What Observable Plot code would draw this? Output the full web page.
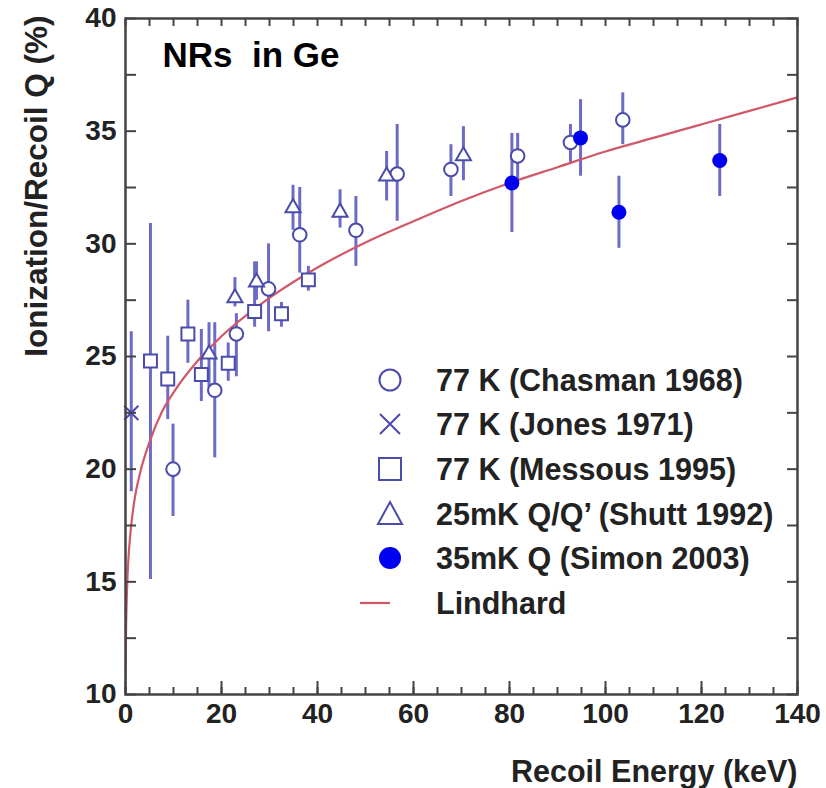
<!DOCTYPE html>
<html><head><meta charset="utf-8">
<script src="https://cdn.jsdelivr.net/npm/d3@7"></script>
<script src="https://cdn.jsdelivr.net/npm/@observablehq/plot@0.6"></script>
<style>
body{margin:0;background:#fff;}
#wrap{position:relative;width:826px;height:788px;}
#legend{position:absolute;left:0;top:0;pointer-events:none;}
</style></head><body><div id="wrap"></div>
<script>
// ---- data ----
// Chasman 1968 (77 K), open circles
const chasmanE  = [9.9, 18.6, 23.1, 29.8, 36.3, 48.0, 56.6, 67.8, 81.7, 92.7, 103.6];
const chasmanQ  = [20.0, 23.5, 26.0, 28.0, 30.4, 30.6, 33.1, 33.3, 33.9, 34.5, 35.5];
const chasmanHi = [22.0, 26.5, 26.9, 30.0, 32.5, 32.1, 35.3, 34.4, 34.9, 35.3, 36.7];
const chasmanLo = [17.9, 20.5, 24.1, 26.1, 28.7, 29.0, 31.0, 32.1, 32.8, 33.6, 34.4];
// Jones 1971 (77 K), crosses
const jonesE  = [1.2];
const jonesQ  = [22.5];
const jonesHi = [26.1];
const jonesLo = [19.0];
// Messous 1995 (77 K), open squares
const messousE  = [5.2, 8.8, 13.0, 15.8, 21.4, 26.9, 32.5, 38.1];
const messousQ  = [24.8, 24.0, 26.0, 24.2, 24.7, 27.0, 26.9, 28.4];
const messousHi = [30.9, 25.9, 27.5, 26.2, 25.6, 29.2, 27.4, 29.0];
const messousLo = [15.1, 22.2, 24.7, 23.0, 23.9, 26.3, 26.3, 27.9];
// Shutt 1992 (25 mK Q/Q'), open triangles
const shuttE  = [17.4, 22.8, 27.3, 34.9, 44.7, 54.4, 70.4];
const shuttQ  = [25.1, 27.6, 28.3, 31.6, 31.4, 33.0, 33.9];
const shuttHi = [26.5, 28.5, 29.2, 32.6, 32.4, 34.1, 35.2];
const shuttLo = [23.6, 27.2, 27.5, 30.6, 30.7, 31.9, 32.8];
// Simon 2003 (35 mK Q), filled circles
const simonE  = [80.5, 94.8, 102.8, 123.8];
const simonQ  = [32.7, 34.7, 31.4, 33.7];
const simonHi = [34.9, 36.4, 33.0, 35.3];
const simonLo = [30.5, 33.0, 29.8, 32.1];
// Lindhard curve, points
const lindE = [0.03, 0.1, 0.2, 0.5, 1, 2, 3, 5, 7.5, 10, 15, 20, 30, 40, 50, 60, 70, 80, 90, 100, 110, 120, 130, 140];
const lindQ = [10.7, 12.6, 13.8, 15.6, 17.1, 18.8, 19.8, 21.2, 22.5, 23.4, 24.8, 25.9, 27.6, 28.95, 30.06, 31.0, 31.9, 32.7, 33.4, 34.1, 34.7, 35.3, 35.9, 36.5];

const xTicks = [0, 20, 40, 60, 80, 100, 120, 140];
const xMinor = [0,5,10,15,20,25,30,35,40,45,50,55,60,65,70,75,80,85,90,95,100,105,110,115,120,125,130,135,140];
const yTicks = [10, 15, 20, 25, 30, 35, 40];
const yMinor = [10,12.5,15,17.5,20,22.5,25,27.5,30,32.5,35,37.5,40];

const legendLabels = ["77 K (Chasman 1968)", "77 K (Jones 1971)", "77 K (Messous 1995)", "25mK Q/Q\u2019 (Shutt 1992)", "35mK Q (Simon 2003)", "Lindhard"];
const chartTitle = "NRs\u00a0\u00a0in Ge";
const xTitle = "Recoil Energy (keV)";
const yTitle = "Ionization/Recoil Q (%)";

// ---- build tables ----
const table = (E, Q, Lo, Hi) => E.map((e, i) => ({E: e, Q: Q[i], lo: Lo[i], hi: Hi[i]}));
const chasman = table(chasmanE, chasmanQ, chasmanLo, chasmanHi);
const jones = table(jonesE, jonesQ, jonesLo, jonesHi);
const messous = table(messousE, messousQ, messousLo, messousHi);
const shutt = table(shuttE, shuttQ, shuttLo, shuttHi);
const simon = table(simonE, simonQ, simonLo, simonHi);
const lind = lindE.map((e, i) => ({E: e, Q: lindQ[i]}));

const markColor = "#4b4bab";
const barColor = "#6c6cc6";
const fillBlue = "#0000f0";
const red = "#d05868";
const axisColor = "#444";
const font = "'Liberation Sans', Arial, Helvetica, sans-serif";

const bars = (d) => Plot.ruleX(d, {x: "E", y1: "lo", y2: "hi", stroke: barColor, strokeWidth: 3});

const chart = Plot.plot({
  width: 826, height: 788,
  marginTop: 18, marginRight: 29, marginBottom: 94, marginLeft: 125,
  style: {fontFamily: font, fontWeight: "bold", fontSize: "28px", color: "#111", background: "#fff"},
  x: {domain: [0, 140], label: null},
  y: {domain: [10, 40], label: null},
  marks: [
    bars(chasman), bars(jones), bars(messous), bars(shutt), bars(simon),
    Plot.line(lind, {x: "E", y: "Q", stroke: red, strokeWidth: 2.2, curve: "monotone-x", clip: true}),
    Plot.dot(messous, {x: "E", y: "Q", symbol: "square", r: 7.3, stroke: markColor, strokeWidth: 2, fill: "white"}),
    Plot.dot(chasman, {x: "E", y: "Q", symbol: "circle", r: 6.8, stroke: markColor, strokeWidth: 2, fill: "white"}),
    Plot.dot(shutt, {x: "E", y: "Q", symbol: "triangle", r: 5.6, stroke: markColor, strokeWidth: 2, fill: "white"}),
    Plot.dot(jones, {x: "E", y: "Q", symbol: "times", r: 6.5, stroke: markColor, strokeWidth: 2}),
    Plot.dot(simon, {x: "E", y: "Q", symbol: "circle", r: 7.5, fill: fillBlue, stroke: "none"}),
    Plot.frame({stroke: axisColor, strokeWidth: 2.5}),
    // inward ticks
    Plot.axisX(xMinor, {anchor: "bottom", tickSize: 7, dy: -7, fill: "none", stroke: axisColor, strokeWidth: 2, label: null}),
    Plot.axisX(xTicks, {anchor: "bottom", tickSize: 13, dy: -13, fill: "none", stroke: axisColor, strokeWidth: 2, label: null}),
    Plot.axisX(xMinor, {anchor: "top", tickSize: 7, dy: 7, fill: "none", stroke: axisColor, strokeWidth: 2, label: null}),
    Plot.axisY(yMinor, {anchor: "left", tickSize: 11, dx: 11, fill: "none", stroke: axisColor, strokeWidth: 2, label: null}),
    Plot.axisY(yMinor, {anchor: "right", tickSize: 11, dx: -11, fill: "none", stroke: axisColor, strokeWidth: 2, label: null}),
    // tick labels
    Plot.axisX(xTicks, {anchor: "bottom", tickSize: 0, tickPadding: 9, label: null, fill: "#222"}),
    Plot.axisY(yTicks, {anchor: "left", tickSize: 0, tickPadding: 9, label: null, fill: "#222"}),
    // titles
    Plot.text([yTitle], {frameAnchor: "top-left", rotate: -90, textAnchor: "end", lineAnchor: "middle", dx: -89, dy: -3, fontSize: 31.5, fill: "#222"}),
    Plot.text([xTitle], {frameAnchor: "bottom-right", textAnchor: "end", lineAnchor: "middle", dy: 78, fontSize: 30.5, fill: "#222"}),
    Plot.text([chartTitle], {frameAnchor: "top-left", textAnchor: "start", lineAnchor: "middle", dx: 37, dy: 37, fontSize: 35, fill: "#000"})
  ]
});
const wrap = document.getElementById("wrap");
wrap.appendChild(chart);

// ---- legend overlay ----
const lg = d3.select(wrap).append("svg").attr("id", "legend").attr("width", 826).attr("height", 788);
const rowY = [380, 424, 469, 514, 558, 603];
const sx = 390, tx = 436;
legendLabels.forEach((lab, i) => {
  const y = rowY[i];
  const g = lg.append("g");
  if (i === 0) g.append("circle").attr("cx", sx).attr("cy", y).attr("r", 10.5).attr("fill", "none").attr("stroke", markColor).attr("stroke-width", 2);
  if (i === 1) g.append("path").attr("d", `M${sx-10},${y-10}L${sx+10},${y+10}M${sx-10},${y+10}L${sx+10},${y-10}`).attr("stroke", markColor).attr("stroke-width", 2);
  if (i === 2) g.append("rect").attr("x", sx-11).attr("y", y-11).attr("width", 22).attr("height", 22).attr("fill", "none").attr("stroke", markColor).attr("stroke-width", 2);
  if (i === 3) g.append("path").attr("d", `M${sx},${y-12}L${sx+12},${y+10}L${sx-12},${y+10}Z`).attr("fill", "none").attr("stroke", markColor).attr("stroke-width", 2);
  if (i === 4) g.append("circle").attr("cx", sx).attr("cy", y).attr("r", 11).attr("fill", fillBlue);
  if (i === 5) g.append("line").attr("x1", 360).attr("x2", 390).attr("y1", y).attr("y2", y).attr("stroke", red).attr("stroke-width", 2.2);
  g.append("text").attr("x", tx).attr("y", y).attr("dy", "0.36em").attr("font-family", font).attr("font-weight", "bold").attr("font-size", 30.5).attr("fill", "#222").text(lab);
});
</script>
</body></html>
